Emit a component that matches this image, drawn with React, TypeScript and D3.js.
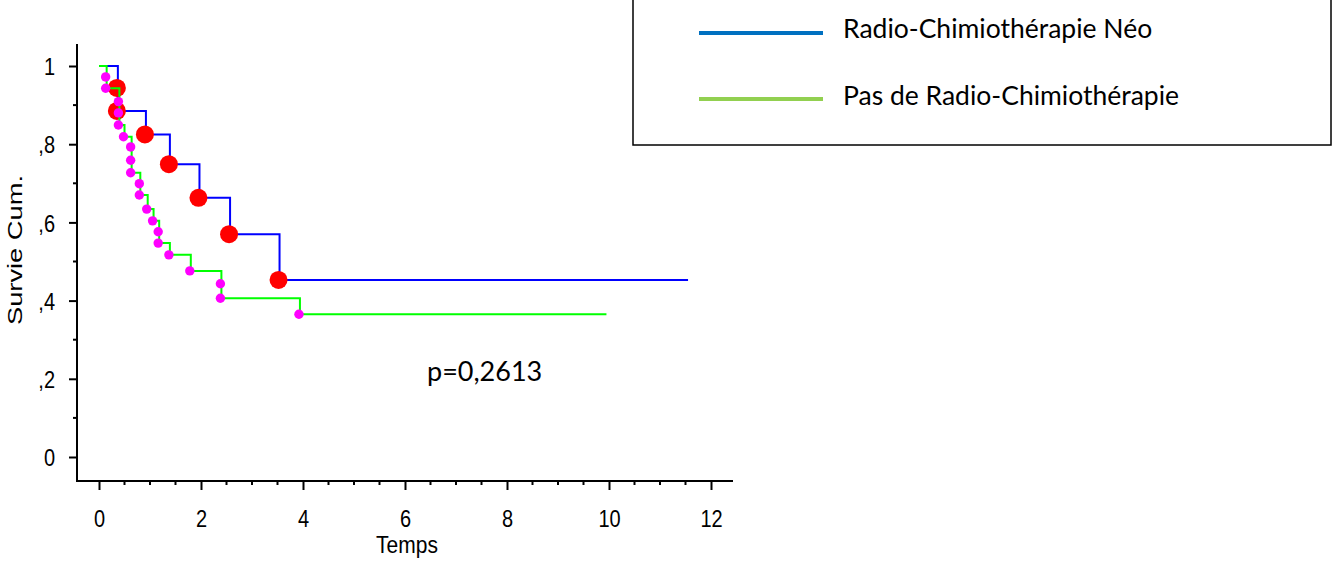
import React, { useRef, useEffect } from 'react';
import * as d3 from 'd3';

// Kaplan-Meier: Radio-Chimiothérapie Néo (bleu) vs Pas de Radio-Chimiothérapie (vert)
const neoTimes = [0.37, 0.37, 0.92, 1.39, 1.97, 2.57, 3.54];
const neoSurv = [0.944, 0.885, 0.825, 0.749, 0.663, 0.57, 0.453];
const neoEnd = 11.55;

const pasTimes = [0.15, 0.15, 0.4, 0.4, 0.4, 0.5, 0.64, 0.64, 0.64, 0.81, 0.81, 0.955, 1.07, 1.18, 1.18, 1.39, 1.8, 2.4, 2.4, 3.94];
const pasSurv = [0.972, 0.943, 0.909, 0.88, 0.849, 0.819, 0.793, 0.759, 0.727, 0.699, 0.67, 0.634, 0.604, 0.576, 0.547, 0.517, 0.476, 0.443, 0.406, 0.365];
const pasEnd = 9.95;

const xTicks = [0, 2, 4, 6, 8, 10, 12];
const xMinor = [0.5, 1, 1.5, 2.5, 3, 3.5, 4.5, 5, 5.5, 6.5, 7, 7.5, 8.5, 9, 9.5, 10.5, 11, 11.5];
const yTicks = [0, 0.2, 0.4, 0.6, 0.8, 1];
const yTickLabels = ['0', ',2', ',4', ',6', ',8', '1'];
const yMinor = [0.1, 0.3, 0.5, 0.7, 0.9];

const legendLabels = ['Radio-Chimiothérapie Néo', 'Pas de Radio-Chimiothérapie'];
const legendColors = ['#0070c0', '#92d050'];

const W = 1335;
const H = 562;
const axisFont = '"Liberation Sans", Arial, sans-serif';
const textFont = 'Lato, "Open Sans", sans-serif';

const x = d3.scaleLinear().domain([0, 12]).range([99, 711]);
const y = d3.scaleLinear().domain([0, 1]).range([457, 66]);

const toPoints = (times: number[], surv: number[], end: number): [number, number][] => {
  const pts: [number, number][] = [[0, 1]];
  times.forEach((t, i) => pts.push([t, surv[i]]));
  pts.push([end, surv[surv.length - 1]]);
  return pts;
};

const line = d3.line<[number, number]>()
  .x(d => x(d[0]))
  .y(d => y(d[1]))
  .curve(d3.curveStepAfter);

export default function App() {
  const xAxisRef = useRef<SVGGElement>(null);
  const yAxisRef = useRef<SVGGElement>(null);

  useEffect(() => {
    const gx = d3.select(xAxisRef.current);
    gx.selectAll('*').remove();
    gx.call(d3.axisBottom(x).tickValues(xTicks).tickSize(9).tickFormat(d => String(d)));
    gx.call(g => g.select('.domain').remove());
    gx.selectAll('.tick line').attr('stroke', '#000').attr('stroke-width', 2);
    // the original picture is a bit stretched vertically
    gx.selectAll('.tick text')
      .attr('y', 0).attr('dy', null)
      .attr('transform', 'translate(0,46) scale(1,1.2)')
      .attr('font-size', 20).attr('font-family', axisFont).attr('fill', '#000');
    gx.selectAll('line.minor').data(xMinor).enter().append('line')
      .attr('class', 'minor')
      .attr('x1', d => x(d)).attr('x2', d => x(d))
      .attr('y1', 0).attr('y2', 4)
      .attr('stroke', '#000').attr('stroke-width', 2);

    const gy = d3.select(yAxisRef.current);
    gy.selectAll('*').remove();
    gy.call(d3.axisLeft(y).tickValues(yTicks).tickSize(8).tickFormat((d, i) => yTickLabels[i]));
    gy.call(g => g.select('.domain').remove());
    gy.selectAll('.tick line').attr('stroke', '#000').attr('stroke-width', 2);
    gy.selectAll('.tick text')
      .attr('x', 0).attr('y', 0).attr('dy', null)
      .attr('transform', 'translate(-22,8.6) scale(1,1.2)')
      .attr('font-size', 20).attr('font-family', axisFont).attr('fill', '#000');
    gy.selectAll('line.minor').data(yMinor).enter().append('line')
      .attr('class', 'minor')
      .attr('y1', d => y(d)).attr('y2', d => y(d))
      .attr('x1', -4).attr('x2', 0)
      .attr('stroke', '#000').attr('stroke-width', 2);
  }, []);

  const neoPts = toPoints(neoTimes, neoSurv, neoEnd);
  const pasPts = toPoints(pasTimes, pasSurv, pasEnd);

  return (
    <div style={{ position: 'absolute', left: 0, top: 0 }}>
      <svg width={W} height={H} style={{ display: 'block', background: '#fff' }}>
        {/* axes */}
        <g ref={xAxisRef} transform="translate(0,481)" />
        <g ref={yAxisRef} transform="translate(77,0)" />
        <line x1={77} x2={77} y1={44} y2={482} stroke="#000" strokeWidth={2} />
        <line x1={76} x2={733} y1={481} y2={481} stroke="#000" strokeWidth={2} />

        <text transform="translate(407,553) scale(1,1.15)" textAnchor="middle" fontSize={21} fontFamily={axisFont}>Temps</text>
        <text transform="translate(22,250) rotate(-90) scale(1.3,1)" textAnchor="middle" fontSize={21} fontFamily={axisFont}>Survie Cum.</text>

        {/* curves */}
        <path d={line(neoPts) || ''} fill="none" stroke="#0000ff" strokeWidth={2} />
        {neoTimes.map((t, i) => (
          <circle key={'n' + i} cx={x(t) - 1} cy={y(neoSurv[i])} r={9} fill="#ff0000" />
        ))}
        <path d={line(pasPts) || ''} fill="none" stroke="#00ff00" strokeWidth={2} />
        {pasTimes.map((t, i) => (
          <circle key={'p' + i} cx={x(t) - 1} cy={y(pasSurv[i])} r={4.7} fill="#ff00ff" />
        ))}

        <text x={427} y={381} fontSize={27} fontFamily={textFont} fill="#000">p=0,2613</text>

        {/* legend */}
        <rect x={633} y={-2} width={698} height={147} fill="#fff" stroke="#000" strokeWidth={1.5} />
        {legendLabels.map((lab, i) => (
          <g key={lab}>
            <line x1={699} x2={823} y1={33 + i * 66} y2={33 + i * 66} stroke={legendColors[i]} strokeWidth={4} />
            <text x={843} y={38 + i * 67} fontSize={26.5} fontFamily={textFont} fill="#000">{lab}</text>
          </g>
        ))}
      </svg>
    </div>
  );
}
